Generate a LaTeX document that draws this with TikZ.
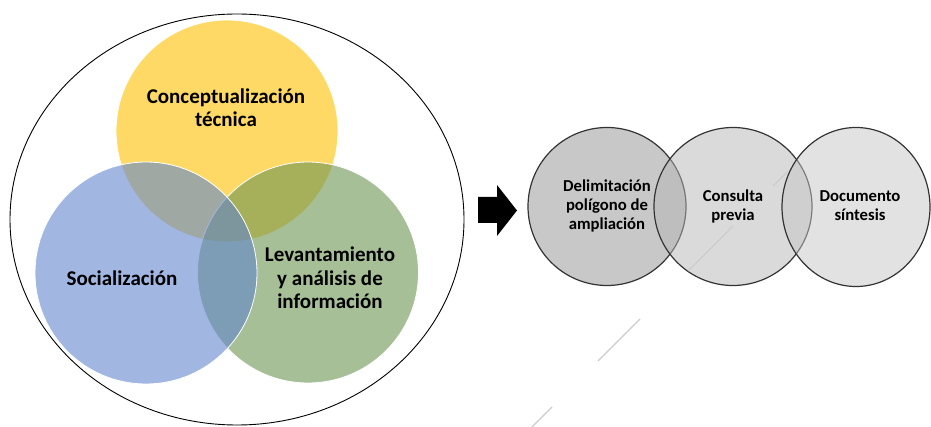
\documentclass[tikz,border=0pt]{standalone}
\usepackage{fontspec}
\setmainfont{Carlito}
\usepackage{xcolor}
\usetikzlibrary{positioning, shapes.geometric}

\definecolor{yellowfill}{RGB}{255,192,0}
\definecolor{bluefill}{RGB}{98,135,205}
\definecolor{greenfill}{RGB}{107,148,81}
\definecolor{grayA}{RGB}{145,145,145}
\definecolor{grayB}{RGB}{181,181,181}
\definecolor{grayC}{RGB}{197,197,197}

\tikzset{
    venn/.style={circle, draw=white, line width=0.8pt, fill opacity=0.6, inner sep=0pt},
    stage/.style={circle, draw=black!80, line width=1.2pt, fill opacity=0.5, draw opacity=1, inner sep=0pt, minimum size=158pt},
    lbig/.style={align=center, font=\bfseries\fontsize{21}{23.3}\selectfont},
    lsmall/.style={align=center, font=\bfseries\fontsize{16.7}{19}\selectfont}
}

\begin{document}
\begin{tikzpicture}[x=1pt, y=-1pt]
    \useasboundingbox (0,0) rectangle (931,427);

    % Outer frame
    \node[ellipse, draw, line width=0.9pt, minimum width=454pt, minimum height=411pt, inner sep=0pt] (outer) at (237,219.5) {};

    % Venn circles
    \node[venn, fill=yellowfill, minimum size=222pt] (tec) at (227,131) {};
    \node[venn, fill=greenfill, minimum size=221pt] (lev) at (308,272.5) {};
    \node[venn, fill=bluefill, minimum size=222pt] (soc) at (146,273) {};

    \node[lbig] (ttec) at (226,108) {Conceptualización\\técnica};
    \node[lbig] (tsoc) at (122,278) {Socialización};
    \node[lbig] (tlev) at (330,278) {Levantamiento\\y análisis de\\información};

    % Block arrow
    \fill (478,197) -- (497,197) -- (497,185) -- (517,210.5) -- (497,236) -- (497,223) -- (478,223) -- cycle;

    % Stages
    \node[stage, fill=grayA] (del) at (607,206.5) {};
    \node[stage, fill=grayB] (con) at (733,206.5) {};
    \node[stage, fill=grayC, ellipse, minimum width=148pt, minimum height=159pt] (doc) at (856,207) {};

    \node[lsmall] (tdel) at (607,206) {Delimitación\\polígono de\\ampliación};
    \node[lsmall] (tcon) at (733,206) {Consulta\\previa};
    \node[lsmall] (tdoc) at (860,206) {Documento\\síntesis};

    % Faint marks
    \foreach \a/\b in {688/733, 773/788, 598/640, 530/552} {
        \draw[black!20, line width=1.2pt] (\a,959-\a) -- (\b,959-\b);
    }
\end{tikzpicture}
\end{document}
